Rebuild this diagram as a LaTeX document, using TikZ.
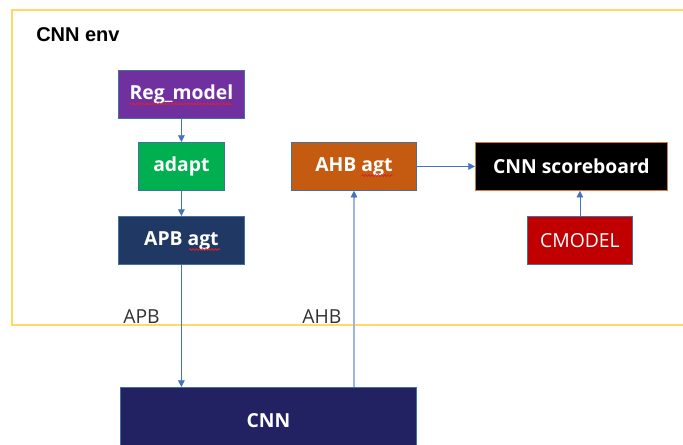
\documentclass[tikz,border=0pt]{standalone}
\usepackage{fontspec}
\setmainfont{Open Sans}
\newfontfamily\titlefont{Liberation Sans}
\usetikzlibrary{arrows.meta,decorations.pathmorphing}

\definecolor{envline}{HTML}{FFD966}
\definecolor{regpurple}{HTML}{7030A0}
\definecolor{adaptgreen}{HTML}{00B050}
\definecolor{apbblue}{HTML}{203864}
\definecolor{ahborange}{HTML}{C55A11}
\definecolor{cmodelred}{HTML}{C00000}
\definecolor{cnnnavy}{HTML}{222161}
\definecolor{linkblue}{HTML}{4472C4}
\definecolor{buslight}{HTML}{9DB5E3}
\definecolor{boxedge}{HTML}{41719C}
\definecolor{spellred}{HTML}{E0202A}

\newcommand\blockfont{\bfseries\fontsize{14.5}{17}\selectfont}

% widths of the labels carrying a wavy underline
\newlength\regfullw
\newlength\agtfullw
\newlength\agtw

% red wavy underline below the trailing word of a block label
\newcommand\flagunder[3]{%
  \draw[squiggle] ([xshift=0.5#2-#3, yshift=-3.4pt]#1.base)
                  -- ([xshift=0.5#2, yshift=-3.4pt]#1.base);}

\tikzset{
  block/.style={draw=boxedge, line width=0.6pt, text=white, font=\blockfont,
    inner sep=0pt, anchor=north west},
  link/.style={draw=linkblue, line width=0.6pt, -{Triangle[width=5pt,length=5pt]}},
  buslabel/.style={font=\fontsize{14.5}{17}\selectfont, text=black!80, anchor=base west},
  squiggle/.style={draw=spellred, line width=0.55pt, decorate,
    decoration={snake, amplitude=0.7pt, segment length=2.4pt}}
}

\begin{document}
\settowidth\regfullw{\blockfont Reg\_model}%
\settowidth\agtfullw{\blockfont AHB agt}%
\settowidth\agtw{\blockfont agt}%
\begin{tikzpicture}[x=0.75pt,y=-0.75pt]
\useasboundingbox (0,0) rectangle (683,444);

% environment frame (runs off the right edge)
\draw[envline, line width=0.9pt] (690,10) -- (12,10) -- (12,325) -- (690,325);
\node[anchor=base west, inner sep=0pt, font=\titlefont\bfseries\fontsize{15}{18}\selectfont] (envtitle) at (36,41) {CNN env};

% blocks
\node[block, fill=regpurple, minimum width=94.5pt, minimum height=36pt] (reg) at (118,70) {Reg\_model};
\node[block, fill=adaptgreen, minimum width=64.5pt, minimum height=36pt] (adapt) at (138,142) {adapt};
\node[block, fill=apbblue, minimum width=94.5pt, minimum height=36pt] (apb) at (118,216) {APB agt};
\node[block, fill=ahborange, minimum width=93.75pt, minimum height=36pt] (ahb) at (291,142) {AHB agt};
\node[block, fill=black, draw=ahborange!80!white, minimum width=144pt, minimum height=36pt] (sb) at (475,142) {CNN scoreboard};
\node[block, fill=cmodelred, font=\fontsize{14.5}{17}\selectfont, minimum width=78.75pt, minimum height=36pt] (cmodel) at (527,216) {CMODEL};
\node[block, fill=cnnnavy, minimum width=222pt, minimum height=50pt] (cnn) at (120,387) {CNN};

% spell-check marks under the flagged words
\flagunder{reg}{\regfullw}{\regfullw}
\flagunder{apb}{\agtfullw}{\agtw}
\flagunder{ahb}{\agtfullw}{\agtw}

% bus labels
\node[buslabel, inner sep=0pt] (apblab) at (123,323) {APB};
\node[buslabel, inner sep=0pt] (ahblab) at (302,323) {AHB};

% x position of the AHB bus line
\coordinate (ahbbus) at (354,0);

% connectors
\draw[link] (reg.south) -- (adapt.north);
\draw[link] (adapt.south) -- (apb.north);
\draw[link] (apb.south) -- (apb.south |- cnn.north);
\draw[draw=buslight, line width=1.4pt]
  (cnn.north -| ahbbus) -- ([yshift=-5pt]ahb.south -| ahbbus);
\draw[link] ([yshift=-5.5pt]ahb.south -| ahbbus) -- (ahb.south -| ahbbus);
\draw[link] (ahb.east) -- (sb.west);
\draw[link] (cmodel.north) -- (cmodel.north |- sb.south);
\end{tikzpicture}
\end{document}
